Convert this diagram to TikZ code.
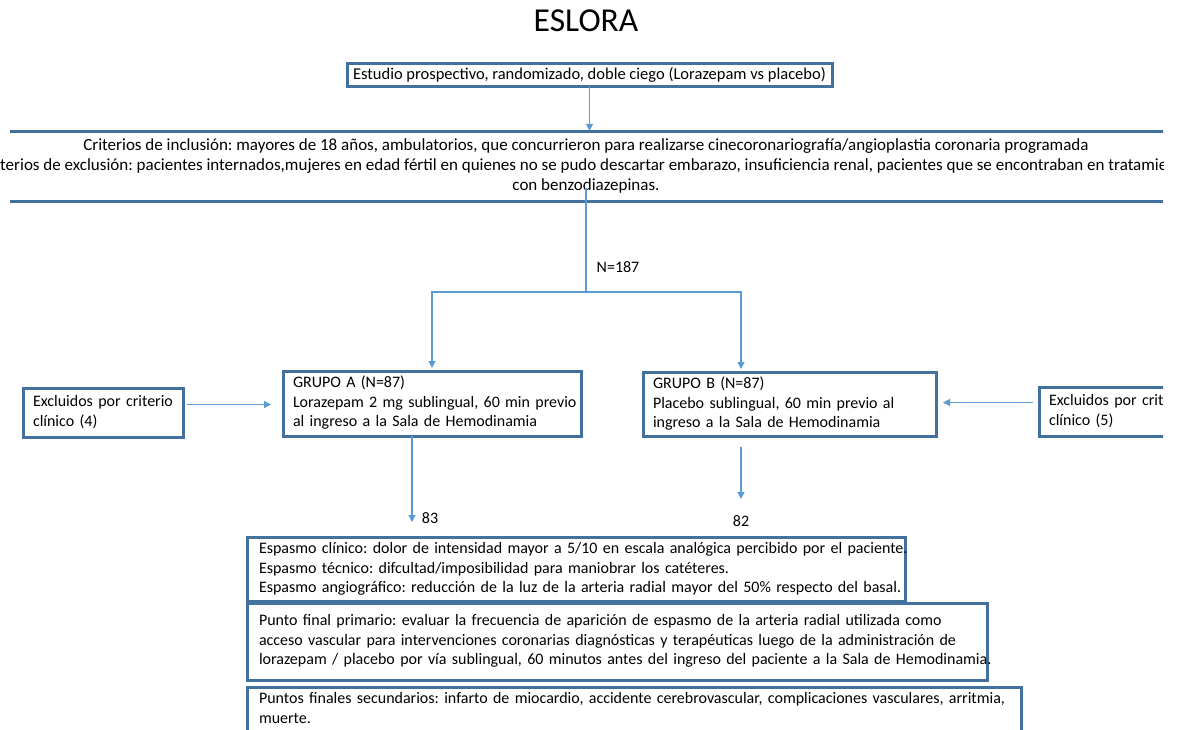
\documentclass[tikz,border=0pt]{standalone}
\usepackage{fontspec}
\setmainfont{Carlito}
\usetikzlibrary{arrows.meta}
\definecolor{boxblue}{RGB}{65,113,156}
\definecolor{arrowblue}{RGB}{91,155,213}
\frenchspacing
\newcommand{\boxlines}[1]{\begin{tabular}{@{}l@{}}#1\end{tabular}}
\tikzset{
	box/.style={draw=boxblue, line width=3, outer sep=0, inner xsep=10, inner ysep=3, align=left, anchor=north west, font=\fontsize{16}{19.5}\selectfont},
	endbox/.style={box, inner xsep=12},
	rule/.style={draw=boxblue, line width=3},
	arr/.style={draw=arrowblue, line width=1.3, -{Triangle[length=7,width=7]}},
	link/.style={draw=arrowblue, line width=1.3},
	lbl/.style={font=\fontsize{16}{20}\selectfont, inner sep=0}
}
\begin{document}
\begin{tikzpicture}[x=1pt, y=-1pt]
	\useasboundingbox (0,0) rectangle (1177,729);
	\begin{scope}
		\clip (0,0) rectangle (1163,729);
		% title and study box
		\node (title) at (586,21) {\fontsize{33.5}{38}\selectfont ESLORA};
		\node[box, align=center, inner sep=0, minimum width=485, minimum height=23, font=\fontsize{16.5}{20}\selectfont] (estudio) at (347,63) {Estudio prospectivo, randomizado, doble ciego (Lorazepam vs placebo)};
		% criteria band
		\node[lbl, align=center, minimum height=70, font=\fontsize{17}{20}\selectfont] (crit) at (586,166) {Criterios de inclusión: mayores de 18 años, ambulatorios, que concurrieron para realizarse cinecoronariografía/angioplastia coronaria programada\\Criterios de exclusión: pacientes internados,mujeres en edad fértil en quienes no se pudo descartar embarazo, insuficiencia renal, pacientes que se encontraban en tratamiento\\con benzodiazepinas.};
		\draw[rule] (10,131) -- (1180,131);
		\draw[rule] (10,201) -- (1180,201);
		% groups
		\node[box, text width=278, minimum height=65] (grpA) at (283,371) {\boxlines{GRUPO A (N=87)\\Lorazepam 2 mg sublingual, 60 min previo\\al ingreso a la Sala de Hemodinamia}};
		\node[box, text width=273, minimum height=64] (grpB) at (643,372) {\boxlines{GRUPO B (N=87)\\Placebo sublingual, 60 min previo al\\ingreso a la Sala de Hemodinamia}};
		\node[box, text width=140, minimum height=49] (excA) at (23,388) {\boxlines{Excluidos por criterio\\clínico (4)}};
		\node[box, text width=140, minimum height=49] (excB) at (1039,387) {\boxlines{Excluidos por criterio\\clínico (5)}};
		% end points
		\node[endbox, text width=634, minimum height=63] (espasmo) at (247,537) {\boxlines{Espasmo clínico: dolor de intensidad mayor a 5/10 en escala analógica percibido por el paciente.\\Espasmo técnico: difcultad/imposibilidad para maniobrar los catéteres.\\Espasmo angiográfico: reducción de la luz de la arteria radial mayor del 50\% respecto del basal.}};
		\node[endbox, text width=716, minimum height=77] (primario) at (247,603) {\boxlines{Punto final primario: evaluar la frecuencia de aparición de espasmo de la arteria radial utilizada como\\acceso vascular para intervenciones coronarias diagnósticas y terapéuticas luego de la administración de\\lorazepam / placebo por vía sublingual, 60 minutos antes del ingreso del paciente a la Sala de Hemodinamia.}};
		\node[endbox, text width=750, minimum height=45] (secund) at (247,687) {\boxlines{Puntos finales secundarios: infarto de miocardio, accidente cerebrovascular, complicaciones vasculares, arritmia,\\muerte.}};
		% labels
		\node[lbl] (n187) at (618,267) {N=187};
		\node[lbl] (n83) at (430,518) {83};
		\node[lbl] (n82) at (741,521) {82};
		% arrows
		\coordinate (split) at (586,292);
		\coordinate (inB) at (741,372);
		\coordinate (outA) at (412,522);
		\coordinate (outB) at (741,499);
		\draw[arr] (estudio.south) -- (estudio.south |- crit.north);
		\draw[link] ([yshift=13]crit.south) -- (split);
		\draw[arr, shorten >=3] (split) -| (grpA.north);
		\draw[arr, shorten >=3] (split) -| (inB);
		\draw[arr, shorten <=4, shorten >=12] ([yshift=8]excA.east) -- ([yshift=8]excA.east -| grpA.west);
		\draw[arr, shorten <=6, shorten >=7] ([yshift=9]excB.west) -- ([yshift=9]excB.west -| grpB.east);
		\draw[arr] (grpA.south -| outA) -- (outA);
		\draw[arr, shorten <=10] (grpB.south -| outB) -- (outB);
	\end{scope}
\end{tikzpicture}
\end{document}
